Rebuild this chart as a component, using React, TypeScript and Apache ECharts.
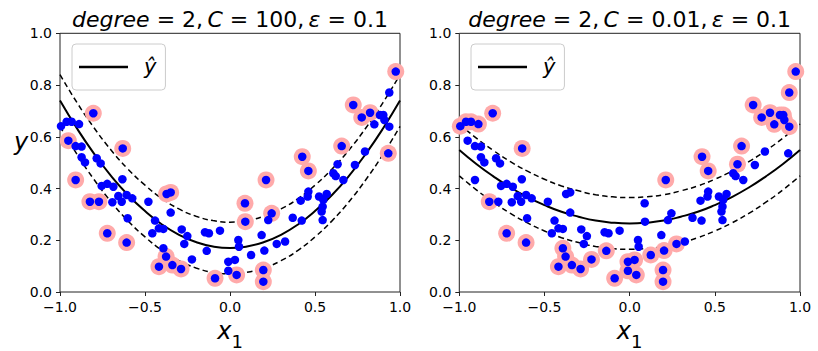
import React, { useEffect, useRef } from "react";
import * as echarts from "echarts";

// data points (x1, y)
const X1 = [
  -0.994, -0.961, -0.931, -0.951, -0.908, -0.888, -0.908, -0.873, -0.873, -0.853,
  -0.824, -0.804, -0.784, -0.771, -0.761, -0.755, -0.722, -0.722, -0.692, -0.686,
  -0.657, -0.637, -0.633, -0.631, -0.608, -0.608, -0.602, -0.575, -0.48, -0.457,
  -0.441, -0.418, -0.418, -0.392, -0.392, -0.376, -0.373, -0.349, -0.349, -0.339,
  -0.288, -0.284, -0.269, -0.251, -0.224, -0.147, -0.137, -0.124, -0.088, -0.059,
  -0.01, -0.01, 0.029, 0.039, 0.049, 0.053, 0.088, 0.09, 0.124, 0.186,
  0.196, 0.196, 0.202, 0.212, 0.225, 0.245, 0.275, 0.324, 0.369, 0.416,
  0.422, 0.425, 0.457, 0.461, 0.461, 0.524, 0.539, 0.545, 0.545, 0.549,
  0.569, 0.608, 0.622, 0.633, 0.657, 0.667, 0.725, 0.735, 0.775, 0.794,
  0.824, 0.849, 0.882, 0.902, 0.908, 0.931, 0.937, 0.937, 0.975,
];
const Y = [
  0.641, 0.658, 0.658, 0.585, 0.564, 0.649, 0.433, 0.562, 0.521, 0.501,
  0.349, 0.691, 0.517, 0.349, 0.497, 0.41, 0.418, 0.227, 0.347, 0.407,
  0.371, 0.349, 0.436, 0.555, 0.375, 0.191, 0.285, 0.362, 0.349, 0.227,
  0.276, 0.246, 0.098, 0.244, 0.169, 0.137, 0.379, 0.385, 0.307, 0.104,
  0.089, 0.242, 0.186, 0.216, 0.126, 0.231, 0.159, 0.227, 0.053, 0.237,
  0.117, 0.082, 0.124, 0.066, 0.201, 0.175, 0.343, 0.272, 0.143, 0.22,
  0.085, 0.04, 0.16, 0.433, 0.278, 0.304, 0.186, 0.195, 0.287, 0.353,
  0.276, 0.523, 0.369, 0.388, 0.468, 0.369, 0.311, 0.33, 0.278, 0.356,
  0.379, 0.459, 0.448, 0.494, 0.564, 0.433, 0.723, 0.491, 0.675, 0.543,
  0.693, 0.648, 0.684, 0.684, 0.665, 0.536, 0.639, 0.771, 0.852,
];
// indices of support vectors (pink circles)
const SV_LEFT = [3, 6, 10, 11, 13, 17, 23, 25, 32, 35, 36, 37, 39, 40, 48, 53, 56, 57, 60, 61, 63, 65, 71, 74, 84, 86, 88, 90, 95, 98];
const SV_RIGHT = [0, 1, 2, 5, 10, 11, 17, 23, 25, 32, 34, 35, 39, 40, 44, 46, 48, 50, 51, 52, 53, 58, 60, 61, 62, 63, 66, 71, 74, 83, 84, 86, 88, 90, 91, 92, 93, 94, 96, 97, 98];

// model predictions sampled along x1
const CURVE_X = [-1, -0.9, -0.8, -0.7, -0.6, -0.5, -0.4, -0.3, -0.2, -0.1, 0, 0.1, 0.2, 0.3, 0.4, 0.5, 0.6, 0.7, 0.8, 0.9, 1];
const PRED_LEFT = [0.74, 0.632, 0.535, 0.449, 0.375, 0.313, 0.261, 0.221, 0.193, 0.176, 0.17, 0.176, 0.193, 0.221, 0.261, 0.313, 0.375, 0.449, 0.535, 0.632, 0.74];
const PRED_RIGHT = [0.549, 0.495, 0.447, 0.404, 0.367, 0.336, 0.31, 0.291, 0.276, 0.268, 0.265, 0.268, 0.276, 0.291, 0.31, 0.336, 0.367, 0.404, 0.447, 0.495, 0.549];
const EPSILON = 0.1;
const TITLES = [
  { degree: "2", C: "100", eps: "0.1" },
  { degree: "2", C: "0.01", eps: "0.1" },
];
const X_TICKS = { min: -1, max: 1, interval: 0.5 };
const Y_TICKS = { min: 0, max: 1, interval: 0.2 };

const FONT = "DejaVu Sans";

export default function App() {
  const ref = useRef<HTMLDivElement>(null);
  useEffect(() => {
    if (!ref.current) return;
    const chart = echarts.init(ref.current, undefined, { renderer: "svg" });
    const grids = [
      { left: 60, top: 33.3, width: 340, height: 258.7 },
      { left: 459.3, top: 33.3, width: 340.7, height: 258.7 },
    ];
    const fmtX = (v: number) => (v < 0 ? "\u2212" : "") + Math.abs(v).toFixed(1);
    const fmtY = (v: number) => v.toFixed(1);
    const xAxes = grids.map((_, i) => ({
      type: "value",
      gridIndex: i,
      min: X_TICKS.min,
      max: X_TICKS.max,
      interval: X_TICKS.interval,
      splitLine: { show: false },
      axisLine: { show: false, onZero: false },
      axisTick: { show: true, inside: false, length: 4, lineStyle: { color: "#222", width: 1 } },
      axisLabel: { margin: 8, color: "#000", fontSize: 14, fontFamily: FONT, formatter: fmtX },
      name: "{x|x}{s|1}",
      nameLocation: "middle",
      nameGap: 24,
      nameTextStyle: {
        rich: {
          x: { fontSize: 24, fontStyle: "italic", fontFamily: FONT, color: "#000", lineHeight: 30, verticalAlign: "middle" },
          s: { fontSize: 18, fontFamily: FONT, color: "#000", lineHeight: 30, verticalAlign: "bottom", padding: [0, 0, -4, 0] },
        },
      },
    }));
    const yAxes = grids.map((_, i) => ({
      type: "value",
      gridIndex: i,
      min: Y_TICKS.min,
      max: Y_TICKS.max,
      interval: Y_TICKS.interval,
      splitLine: { show: false },
      axisLine: { show: false, onZero: false },
      axisTick: { show: true, inside: false, length: 4, lineStyle: { color: "#222", width: 1 } },
      axisLabel: { margin: 8, color: "#000", fontSize: 14, fontFamily: FONT, formatter: fmtY },
    }));

    const series: any[] = [];
    const preds = [PRED_LEFT, PRED_RIGHT];
    const svs = [SV_LEFT, SV_RIGHT];
    for (let i = 0; i < 2; i++) {
      const p = preds[i];
      series.push({
        type: "line", name: "\u0177", xAxisIndex: i, yAxisIndex: i, smooth: true, showSymbol: false, symbol: "none",
        data: CURVE_X.map((x, k) => [x, p[k]]),
        lineStyle: { color: "#000", width: 2 }, itemStyle: { color: "#000" }, z: 1,
      });
      series.push({
        type: "line", name: "up" + i, xAxisIndex: i, yAxisIndex: i, smooth: true, showSymbol: false, symbol: "none",
        data: CURVE_X.map((x, k) => [x, p[k] + EPSILON]),
        lineStyle: { color: "#000", width: 1.5, type: [5.5, 3.5] }, z: 1,
      });
      series.push({
        type: "line", name: "down" + i, xAxisIndex: i, yAxisIndex: i, smooth: true, showSymbol: false, symbol: "none",
        data: CURVE_X.map((x, k) => [x, p[k] - EPSILON]),
        lineStyle: { color: "#000", width: 1.5, type: [5.5, 3.5] }, z: 1,
      });
      series.push({
        type: "scatter", name: "sv" + i, xAxisIndex: i, yAxisIndex: i, symbolSize: 17,
        data: svs[i].map((k) => [X1[k], Y[k]]),
        itemStyle: { color: "#ffaaaa", opacity: 1 }, z: 2,
      });
      series.push({
        type: "scatter", name: "pts" + i, xAxisIndex: i, yAxisIndex: i, symbolSize: 8.5,
        data: X1.map((x, k) => [x, Y[k]]),
        itemStyle: { color: "#0000ff", opacity: 1 }, z: 3,
      });
    }

    const legendBase = {
      data: [{ name: "\u0177", icon: "rect" }],
      top: 44,
      itemWidth: 49,
      itemHeight: 2.5,
      padding: [10, 9, 10, 7],
      backgroundColor: "rgba(255,255,255,0.8)",
      borderColor: "#cccccc",
      borderWidth: 1,
      borderRadius: 4,
      selectedMode: false,
      textStyle: { fontSize: 21, fontStyle: "italic", fontFamily: FONT, color: "#000", lineHeight: 26, padding: [0, 0, 0, 11] },
    };

    const titleRich = {
      i: { fontSize: 22, fontStyle: "italic", fontFamily: FONT, color: "#000" },
      n: { fontSize: 22, fontFamily: FONT, color: "#000" },
    };
    const graphics: any[] = TITLES.map((t, i) => ({
      type: "text",
      x: grids[i].left + grids[i].width / 2,
      y: 19,
      style: {
        text: `{i|degree}{n| = ${t.degree},\u2009}{i|C}{n| = ${t.C},\u2009}{i|\u03b5}{n| = ${t.eps}}`,
        rich: titleRich,
        align: "center",
        verticalAlign: "middle",
        fontSize: 22,
        fontFamily: FONT,
      },
    }));
    graphics.push({
      type: "text",
      x: 21,
      y: 142,
      style: {
        text: "y",
        fontSize: 24,
        fontStyle: "italic",
        fontFamily: FONT,
        fill: "#000",
        align: "center",
        verticalAlign: "middle",
      },
    });

    chart.setOption({
      animation: false,
      backgroundColor: "#fff",
      grid: grids.map((g) => ({
        ...g, show: true, borderColor: "#222", borderWidth: 1, backgroundColor: "transparent",
        containLabel: false, outerBoundsMode: "none",
      })),
      xAxis: xAxes,
      yAxis: yAxes,
      legend: [
        { ...legendBase, left: 72 },
        { ...legendBase, left: 471 },
      ],
      graphic: graphics,
      series,
    });
    return () => chart.dispose();
  }, []);
  return <div ref={ref} style={{ position: "absolute", left: 0, top: 0, width: 818, height: 351 }} />;
}
